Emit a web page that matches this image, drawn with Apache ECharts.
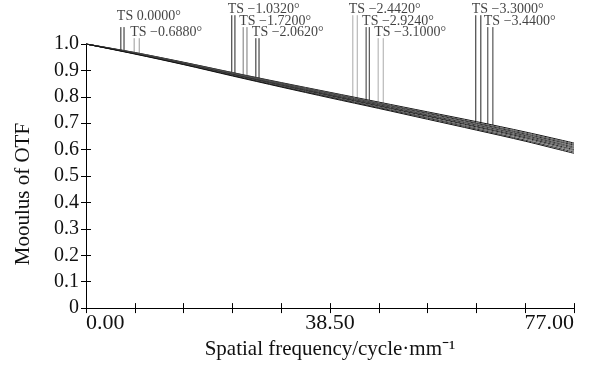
<!DOCTYPE html>
<html><head><meta charset="utf-8">
<script src="https://cdn.jsdelivr.net/npm/echarts@6/dist/echarts.min.js"></script>
<style>html,body{margin:0;padding:0;background:#fff}#c{width:592px;height:365px}</style>
</head><body><div id="c"></div>
<script>
// ---- data ----
const freq = [0, 7.7, 15.4, 23.1, 30.8, 38.5, 46.2, 53.9, 61.6, 69.3, 77];
const curve1  = [1.0, 0.968, 0.931, 0.892, 0.854, 0.817, 0.780, 0.743, 0.706, 0.667, 0.625];
const curve2  = [1.0, 0.967, 0.930, 0.891, 0.852, 0.815, 0.777, 0.740, 0.702, 0.663, 0.621];
const curve3  = [1.0, 0.966, 0.929, 0.889, 0.850, 0.812, 0.774, 0.737, 0.699, 0.659, 0.617];
const curve4  = [1.0, 0.966, 0.928, 0.888, 0.849, 0.810, 0.772, 0.734, 0.696, 0.656, 0.613];
const curve5  = [1.0, 0.965, 0.927, 0.886, 0.847, 0.808, 0.770, 0.731, 0.693, 0.653, 0.609];
const curve6  = [1.0, 0.965, 0.926, 0.885, 0.845, 0.806, 0.767, 0.728, 0.689, 0.649, 0.605];
const curve7  = [1.0, 0.964, 0.925, 0.884, 0.843, 0.804, 0.765, 0.726, 0.686, 0.645, 0.600];
const curve8  = [1.0, 0.964, 0.924, 0.882, 0.841, 0.801, 0.762, 0.722, 0.682, 0.641, 0.596];
const curve9  = [1.0, 0.963, 0.923, 0.881, 0.839, 0.799, 0.759, 0.719, 0.678, 0.636, 0.591];
const curve10 = [1.0, 0.962, 0.922, 0.879, 0.837, 0.796, 0.756, 0.715, 0.674, 0.632, 0.586];
const fieldLabels = ['TS 0.0000°', 'TS −0.6880°', 'TS −1.0320°', 'TS −1.7200°', 'TS −2.0620°',
                     'TS −2.4420°', 'TS −2.9240°', 'TS −3.1000°', 'TS −3.3000°', 'TS −3.4400°'];
const markerFreqT = [5.5, 7.6, 23.0, 24.8, 26.8, 42.1, 44.2, 46.1, 61.5, 63.4];
const markerFreqS = [6.0, 8.4, 23.5, 25.4, 27.3, 42.8, 44.7, 46.9, 62.3, 64.2];
const yTickLabels = ['0', '0.1', '0.2', '0.3', '0.4', '0.5', '0.6', '0.7', '0.8', '0.9', '1.0'];
const xTickLabels = {0: '0.00', 38.5: '38.50', 77: '77.00'};

// ---- layout / style (not data) ----
const lineTopVal  = [1.064, 1.022, 1.109, 1.064, 1.022, 1.109, 1.064, 1.022, 1.109, 1.064];
const labelBaseVal= [1.082, 1.022, 1.109, 1.064, 1.022, 1.109, 1.064, 1.022, 1.109, 1.064];
const markerColor = ['#222', '#9a9a9a', '#222', '#777', '#222', '#aaa', '#333', '#aaa', '#222', '#333'];
const curveColor  = ['#111', '#555', '#222', '#666', '#333', '#444', '#222', '#555', '#333', '#111'];
const FONT = 'Liberation Serif';

const curves = [curve1, curve2, curve3, curve4, curve5, curve6, curve7, curve8, curve9, curve10];
function interp(arr, f) {
  for (let i = 0; i < freq.length - 1; i++) {
    if (f >= freq[i] && f <= freq[i + 1]) {
      const t = (f - freq[i]) / (freq[i + 1] - freq[i]);
      return arr[i] + t * (arr[i + 1] - arr[i]);
    }
  }
  return arr[arr.length - 1];
}

const series = [];
curves.forEach((c, k) => {
  series.push({
    type: 'line', data: freq.map((f, i) => [f, c[i]]), smooth: 0.3,
    showSymbol: false, symbol: 'none', lineStyle: {color: curveColor[k], width: 1}, z: 3
  });
});
fieldLabels.forEach((lab, i) => {
  [markerFreqT[i], markerFreqS[i]].forEach(f => {
    series.push({
      type: 'line', clip: false, symbol: 'none', showSymbol: false,
      data: [[f, lineTopVal[i]], [f, interp(curve1, f)]],
      lineStyle: {color: markerColor[i], width: 1}, z: 2
    });
  });
});
series.push({
  type: 'scatter', clip: false, symbolSize: 1, itemStyle: {color: 'rgba(0,0,0,0)'},
  data: fieldLabels.map((t, i) => ({name: t, value: [markerFreqT[i], labelBaseVal[i]]})),
  label: {show: true, formatter: '{b}', position: 'top', distance: 0, align: 'left', offset: [-4, 1],
          color: '#111', fontFamily: FONT, fontSize: 14, lineHeight: 13},
  z: 5
});

const axisLine = {show: true, lineStyle: {color: '#000', width: 1}};
const chart = echarts.init(document.getElementById('c'), null, {renderer: 'canvas'});
chart.setOption({
  animation: false,
  backgroundColor: '#fff',
  grid: {left: 86, right: 18, top: 44, bottom: 54},
  xAxis: [{
    type: 'value', min: 0, max: 77, interval: 7.7, position: 'bottom',
    axisLine, splitLine: {show: false},
    axisTick: {show: true, inside: true, length: 5, lineStyle: {color: '#000'}},
    axisLabel: {
      show: true, margin: 4, color: '#111', fontFamily: FONT, fontSize: 22,
      alignMinLabel: 'left', alignMaxLabel: 'right', showMinLabel: true, showMaxLabel: true,
      formatter: v => {
        for (const k in xTickLabels) { if (Math.abs(v - Number(k)) < 1e-6) return xTickLabels[k]; }
        return '';
      }
    },
    name: 'Spatial frequency/cycle·mm⁻¹', nameLocation: 'middle', nameGap: 30,
    nameTextStyle: {color: '#111', fontFamily: FONT, fontSize: 21}
  }, {
    type: 'value', min: 0, max: 77, interval: 7.7, position: 'top',
    axisLine, splitLine: {show: false}, axisLabel: {show: false},
    axisTick: {show: true, inside: true, length: 5, lineStyle: {color: '#000'}}
  }],
  yAxis: [{
    type: 'value', min: 0, max: 1, interval: 0.1, position: 'left',
    axisLine, splitLine: {show: false},
    axisTick: {show: true, inside: true, length: 5, lineStyle: {color: '#000'}},
    axisLabel: {
      color: '#111', fontFamily: FONT, fontSize: 20, margin: 7,
      formatter: v => yTickLabels[Math.round(v * 10)]
    },
    name: 'Mooulus of OTF', nameLocation: 'middle', nameGap: 52,
    nameTextStyle: {color: '#111', fontFamily: FONT, fontSize: 21, padding: [0, 36, 0, 0]}
  }, {
    type: 'value', min: 0, max: 1, interval: 0.1, position: 'right',
    axisLine, splitLine: {show: false}, axisLabel: {show: false},
    axisTick: {show: true, inside: true, length: 5, lineStyle: {color: '#000'}}
  }],
  series
});
</script>
</body></html>
